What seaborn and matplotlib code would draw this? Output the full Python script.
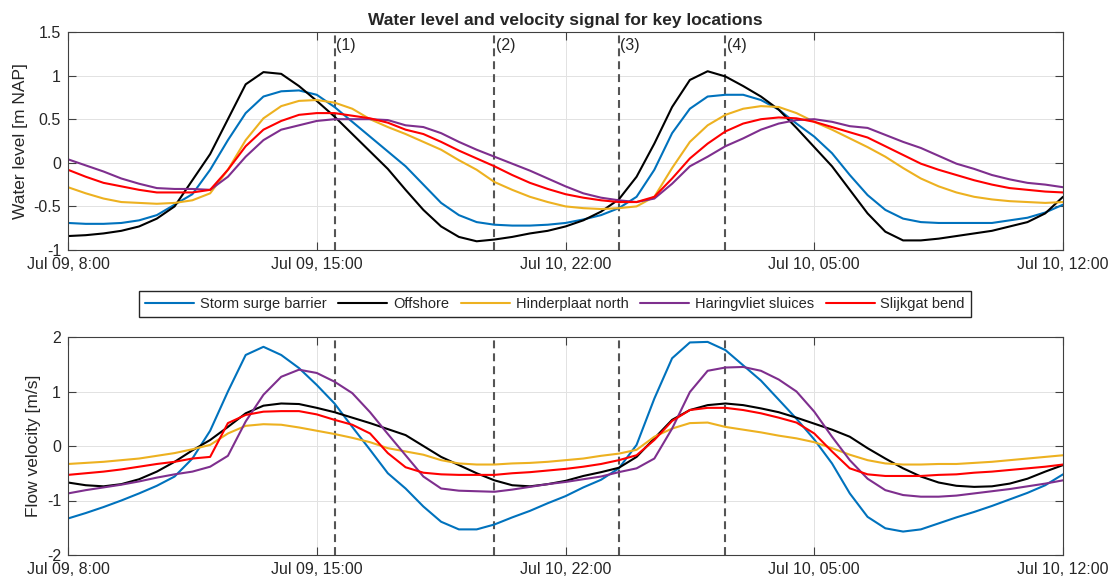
import numpy as np
import pandas as pd
import matplotlib.pyplot as plt
import seaborn as sns
from matplotlib.lines import Line2D
from matplotlib.ticker import FuncFormatter

# time axis: hours since Jul 09, 8:00 (half-hour samples)
hours = np.arange(0, 28.5, 0.5)

locations = ["Storm surge barrier", "Offshore", "Hinderplaat north",
             "Haringvliet sluices", "Slijkgat bend"]
colors = ["#0072BD", "#000000", "#EDB120", "#7E2F8E", "#FF0000"]

tick_hours = [0, 7, 14, 21, 28]
tick_labels = ["Jul 09, 8:00", "Jul 09, 15:00", "Jul 10, 22:00",
               "Jul 10, 05:00", "Jul 10, 12:00"]

event_hours = [7.5, 12, 15.5, 18.5]
event_labels = ["(1)", "(2)", "(3)", "(4)"]

# water level [m NAP]
wl_barrier = [-0.69, -0.70, -0.70, -0.69, -0.66, -0.60, -0.48, -0.36, -0.08, 0.26,
              0.57, 0.76, 0.82, 0.83, 0.78, 0.64, 0.47, 0.30, 0.13, -0.04,
              -0.25, -0.46, -0.60, -0.68, -0.71, -0.72, -0.72, -0.71, -0.69, -0.65,
              -0.60, -0.52, -0.39, -0.08, 0.34, 0.62, 0.76, 0.78, 0.78, 0.72,
              0.61, 0.45, 0.30, 0.11, -0.14, -0.37, -0.54, -0.64, -0.68, -0.69,
              -0.69, -0.69, -0.69, -0.66, -0.63, -0.57, -0.48]
wl_offshore = [-0.84, -0.83, -0.81, -0.78, -0.73, -0.64, -0.50, -0.20, 0.10, 0.50,
               0.90, 1.04, 1.02, 0.88, 0.71, 0.53, 0.33, 0.13, -0.07, -0.31,
               -0.54, -0.73, -0.85, -0.90, -0.88, -0.85, -0.81, -0.78, -0.73, -0.66,
               -0.56, -0.42, -0.16, 0.22, 0.64, 0.95, 1.05, 0.99, 0.88, 0.76,
               0.61, 0.40, 0.18, -0.04, -0.31, -0.58, -0.79, -0.89, -0.89, -0.87,
               -0.84, -0.81, -0.78, -0.73, -0.68, -0.58, -0.39]
wl_hinderplaat = [-0.28, -0.35, -0.41, -0.45, -0.46, -0.47, -0.46, -0.43, -0.35, -0.08,
                  0.26, 0.51, 0.65, 0.71, 0.72, 0.69, 0.62, 0.50, 0.41, 0.33,
                  0.24, 0.15, 0.03, -0.08, -0.22, -0.31, -0.39, -0.45, -0.50, -0.52,
                  -0.53, -0.52, -0.50, -0.39, -0.06, 0.24, 0.43, 0.55, 0.62, 0.65,
                  0.64, 0.57, 0.47, 0.38, 0.28, 0.18, 0.07, -0.06, -0.18, -0.27,
                  -0.34, -0.39, -0.42, -0.44, -0.45, -0.46, -0.45]
wl_haringvliet = [0.04, -0.03, -0.10, -0.18, -0.24, -0.29, -0.30, -0.30, -0.31, -0.16,
                  0.07, 0.26, 0.38, 0.43, 0.48, 0.50, 0.50, 0.50, 0.49, 0.43,
                  0.41, 0.34, 0.24, 0.15, 0.07, -0.01, -0.09, -0.18, -0.27, -0.35,
                  -0.40, -0.43, -0.45, -0.41, -0.24, -0.04, 0.07, 0.19, 0.28, 0.38,
                  0.45, 0.49, 0.50, 0.47, 0.42, 0.40, 0.32, 0.24, 0.17, 0.08,
                  -0.01, -0.07, -0.14, -0.19, -0.23, -0.25, -0.28]
wl_slijkgat = [-0.08, -0.16, -0.23, -0.27, -0.31, -0.34, -0.34, -0.34, -0.31, -0.08,
               0.19, 0.38, 0.48, 0.55, 0.57, 0.57, 0.54, 0.51, 0.46, 0.38,
               0.33, 0.24, 0.14, 0.05, -0.04, -0.14, -0.23, -0.30, -0.36, -0.40,
               -0.43, -0.45, -0.45, -0.39, -0.18, 0.05, 0.22, 0.36, 0.45, 0.50,
               0.52, 0.51, 0.47, 0.41, 0.35, 0.29, 0.19, 0.09, -0.01, -0.08,
               -0.14, -0.20, -0.25, -0.29, -0.31, -0.33, -0.34]

# flow velocity [m/s]
vel_barrier = [-1.33, -1.23, -1.12, -1.00, -0.87, -0.73, -0.56, -0.23, 0.28, 1.00,
               1.67, 1.82, 1.67, 1.43, 1.12, 0.78, 0.35, -0.07, -0.50, -0.78,
               -1.11, -1.39, -1.53, -1.53, -1.44, -1.31, -1.19, -1.05, -0.92, -0.76,
               -0.62, -0.41, 0.02, 0.87, 1.61, 1.90, 1.91, 1.76, 1.48, 1.20,
               0.85, 0.50, 0.12, -0.32, -0.87, -1.30, -1.51, -1.57, -1.53, -1.42,
               -1.31, -1.21, -1.10, -0.98, -0.86, -0.72, -0.52]
vel_offshore = [-0.67, -0.72, -0.74, -0.70, -0.61, -0.47, -0.29, -0.08, 0.11, 0.35,
                0.60, 0.74, 0.78, 0.77, 0.70, 0.62, 0.52, 0.42, 0.31, 0.20,
                0.00, -0.20, -0.35, -0.50, -0.63, -0.72, -0.74, -0.70, -0.64, -0.55,
                -0.48, -0.40, -0.20, 0.14, 0.48, 0.66, 0.75, 0.78, 0.75, 0.69,
                0.62, 0.52, 0.41, 0.30, 0.17, -0.04, -0.23, -0.41, -0.56, -0.67,
                -0.73, -0.75, -0.74, -0.69, -0.60, -0.47, -0.35]
vel_hinderplaat = [-0.33, -0.31, -0.29, -0.26, -0.23, -0.18, -0.13, -0.06, 0.02, 0.23,
                   0.37, 0.40, 0.39, 0.34, 0.28, 0.22, 0.15, 0.07, -0.04, -0.10,
                   -0.16, -0.26, -0.32, -0.34, -0.34, -0.32, -0.31, -0.29, -0.26, -0.23,
                   -0.18, -0.14, -0.07, 0.17, 0.32, 0.42, 0.43, 0.35, 0.30, 0.25,
                   0.19, 0.14, 0.07, -0.04, -0.16, -0.26, -0.32, -0.34, -0.34, -0.33,
                   -0.33, -0.31, -0.29, -0.26, -0.23, -0.20, -0.17]
vel_haringvliet = [-0.87, -0.81, -0.76, -0.71, -0.65, -0.58, -0.52, -0.47, -0.38, -0.18,
                   0.45, 0.94, 1.27, 1.40, 1.34, 1.18, 0.97, 0.62, 0.22, -0.17,
                   -0.56, -0.78, -0.82, -0.83, -0.84, -0.80, -0.75, -0.70, -0.66, -0.61,
                   -0.56, -0.48, -0.41, -0.23, 0.32, 0.99, 1.38, 1.44, 1.45, 1.38,
                   1.22, 1.00, 0.63, 0.17, -0.26, -0.60, -0.81, -0.90, -0.93, -0.93,
                   -0.91, -0.87, -0.83, -0.79, -0.74, -0.69, -0.63]
vel_slijkgat = [-0.53, -0.50, -0.47, -0.43, -0.38, -0.33, -0.29, -0.23, -0.20, 0.42,
                0.57, 0.63, 0.64, 0.64, 0.58, 0.48, 0.39, 0.23, -0.13, -0.39,
                -0.49, -0.52, -0.53, -0.53, -0.53, -0.50, -0.48, -0.45, -0.42, -0.38,
                -0.33, -0.26, -0.17, 0.11, 0.46, 0.66, 0.70, 0.70, 0.66, 0.60,
                0.52, 0.43, 0.23, -0.10, -0.41, -0.52, -0.55, -0.55, -0.55, -0.53,
                -0.52, -0.49, -0.47, -0.44, -0.41, -0.38, -0.34]


def to_long(series):
    df = pd.DataFrame(dict(zip(locations, series)))
    df["hour"] = hours
    return df.melt("hour", var_name="location", value_name="value")


water = to_long([wl_barrier, wl_offshore, wl_hinderplaat, wl_haringvliet, wl_slijkgat])
velocity = to_long([vel_barrier, vel_offshore, vel_hinderplaat, vel_haringvliet, vel_slijkgat])

sns.set_theme(style="whitegrid", rc={
    "axes.edgecolor": "#404040",
    "axes.linewidth": 0.8,
    "grid.color": "#e2e2e2",
    "grid.linewidth": 0.7,
    "axes.unicode_minus": False,
    "text.color": "#262626",
    "axes.labelcolor": "#262626",
})
plt.rcParams["font.family"] = ["Liberation Sans", "DejaVu Sans"]

fig, (ax1, ax2) = plt.subplots(2, 1, figsize=(11.18, 5.84), dpi=100)
ax1.set_position([68 / 1118, 1 - 250 / 584, 995 / 1118, 218 / 584])
ax2.set_position([68 / 1118, 1 - 555 / 584, 995 / 1118, 218 / 584])

for ax, data, ylim, yticks, ylabel in [
    (ax1, water, (-1, 1.5), np.arange(-1, 1.51, 0.5), "Water level [m NAP]"),
    (ax2, velocity, (-2, 2), np.arange(-2, 2.1, 1), "Flow velocity [m/s]"),
]:
    for t in event_hours:
        ax.axvline(t, color="#555555", lw=1.5, ls=(0, (3.8, 2.4)), zorder=1.5)
    sns.lineplot(data=data, x="hour", y="value", hue="location", hue_order=locations,
                 palette=colors, linewidth=1.5, errorbar=None, legend=False, ax=ax)
    ax.set_xlim(0, 28)
    ax.set_ylim(*ylim)
    ax.set_xticks(tick_hours)
    ax.set_xticklabels(tick_labels)
    ax.set_yticks(yticks)
    ax.yaxis.set_major_formatter(FuncFormatter(lambda v, p: "{:g}".format(v)))
    ax.set_xlabel("")
    ax.set_ylabel(ylabel, fontsize=12.5, labelpad=4)
    ax.tick_params(direction="in", top=True, right=True, bottom=True, left=True,
                   length=6, width=0.8, color="#404040", labelcolor="#262626",
                   labelsize=11.5, pad=5)

for t, lab in zip(event_hours, event_labels):
    ax1.annotate(lab, xy=(t, 1), xycoords=("data", "axes fraction"),
                 xytext=(1, -4), textcoords="offset points",
                 ha="left", va="top", fontsize=11.5, color="#262626")

ax1.set_title("Water level and velocity signal for key locations",
              fontsize=12.5, fontweight="bold", pad=5)

handles = [Line2D([], [], color=c, lw=1.5) for c in colors]
fig.legend(handles, locations, loc="center", bbox_to_anchor=(555 / 1118, 1 - 304 / 584),
           ncol=5, fontsize=10.5, frameon=True, fancybox=False, framealpha=1,
           edgecolor="#262626", handlelength=3.36, handletextpad=0.4,
           columnspacing=0.8, borderpad=0.4)

fig.savefig("out.png", dpi=100)
